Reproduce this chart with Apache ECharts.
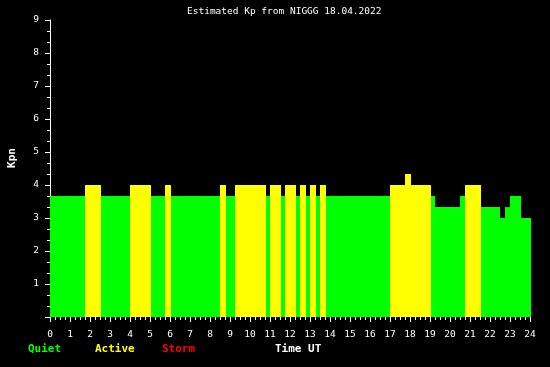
<!DOCTYPE html>
<html><head><meta charset="utf-8">
<script src="https://cdn.jsdelivr.net/npm/echarts@6/dist/echarts.min.js"></script>
<style>html,body{margin:0;padding:0;background:#000;}#c{width:550px;height:367px;}</style>
</head><body><div id="c"></div>
<script>
// Kp segments: start hour, end hour, value
const segStart = [0, 1.75, 2.55, 4.0, 5.05, 5.75, 6.05, 8.5, 8.8, 9.25, 10.8, 11.0, 11.55, 11.75, 12.3, 12.5, 12.8, 13.0, 13.3, 13.5, 13.8, 17.0, 17.75, 18.05, 19.05, 19.25, 20.5, 20.75, 21.55, 22.5, 22.75, 23.0, 23.55];
const segEnd = [1.75, 2.55, 4.0, 5.05, 5.75, 6.05, 8.5, 8.8, 9.25, 10.8, 11.0, 11.55, 11.75, 12.3, 12.5, 12.8, 13.0, 13.3, 13.5, 13.8, 17.0, 17.75, 18.05, 19.05, 19.25, 20.5, 20.75, 21.55, 22.5, 22.75, 23.0, 23.55, 24.05];
const kpValues = [3.67, 4, 3.67, 4, 3.67, 4, 3.67, 4, 3.67, 4, 3.67, 4, 3.67, 4, 3.67, 4, 3.67, 4, 3.67, 4, 3.67, 4, 4.33, 4, 3.67, 3.33, 3.67, 4, 3.33, 3, 3.33, 3.67, 3];
const xTicks = [0,1,2,3,4,5,6,7,8,9,10,11,12,13,14,15,16,17,18,19,20,21,22,23,24];
const yTicks = [1,2,3,4,5,6,7,8,9];
const titleText = 'Estimated Kp from NIGGG 18.04.2022';

const data = segStart.map((s, i) => [s, segEnd[i], kpValues[i]]);
const GREEN = '#00ff00', YELLOW = '#ffff00', RED = '#ff0000';
const mono = '"DejaVu Sans Mono", monospace';

const chart = echarts.init(document.getElementById('c'), null, {renderer: 'canvas'});
chart.setOption({
  backgroundColor: '#000',
  animation: false,
  grid: {left: 50, right: 20, top: 20, bottom: 50},
  xAxis: {
    type: 'value', min: 0, max: 24, interval: 1,
    axisLine: {show: false},
    axisTick: {show: true, length: 5, lineStyle: {color: '#fff'}},
    minorTick: {show: true, splitNumber: 4, length: 3, lineStyle: {color: '#fff'}},
    splitLine: {show: false},
    axisLabel: {color: '#fff', fontFamily: mono, fontSize: 9.5, margin: 13,
      formatter: v => xTicks.includes(v) ? String(v) : ''}
  },
  yAxis: {
    type: 'value', min: 0, max: 9, interval: 1,
    axisLine: {show: true, lineStyle: {color: '#fff', width: 1}},
    axisTick: {show: true, length: 5, lineStyle: {color: '#fff'}},
    minorTick: {show: true, splitNumber: 3, length: 3, lineStyle: {color: '#fff'}},
    splitLine: {show: false},
    axisLabel: {color: '#fff', fontFamily: mono, fontSize: 9.5, margin: 11,
      formatter: v => yTicks.includes(v) ? String(v) : ''}
  },
  series: [{
    type: 'custom',
    data: data,
    encode: {x: [0, 1], y: 2},
    renderItem: function (params, api) {
      const p0 = api.coord([api.value(0), api.value(2)]);
      const p1 = api.coord([api.value(1), 0]);
      const v = api.value(2);
      const col = v >= 5 ? RED : (v >= 4 ? YELLOW : GREEN);
      return {type: 'rect', shape: {x: p0[0], y: p0[1], width: p1[0] - p0[0], height: p1[1] - p0[1]},
        style: {fill: col}};
    }
  }],
  graphic: [
    {type: 'text', left: 187, top: 7, style: {text: titleText, fill: '#fff', font: '9.5px ' + mono}},
    {type: 'text', x: 12, y: 158, rotation: Math.PI / 2, style: {text: 'Kpn', fill: '#fff', font: 'bold 11px ' + mono, align: 'center', verticalAlign: 'middle'}},
    {type: 'text', left: 28, top: 344, style: {text: 'Quiet', fill: GREEN, font: 'bold 11px ' + mono}},
    {type: 'text', left: 95, top: 344, style: {text: 'Active', fill: YELLOW, font: 'bold 11px ' + mono}},
    {type: 'text', left: 162, top: 344, style: {text: 'Storm', fill: RED, font: 'bold 11px ' + mono}},
    {type: 'text', left: 275, top: 344, style: {text: 'Time UT', fill: '#fff', font: 'bold 11px ' + mono}}
  ]
});
</script></body></html>
